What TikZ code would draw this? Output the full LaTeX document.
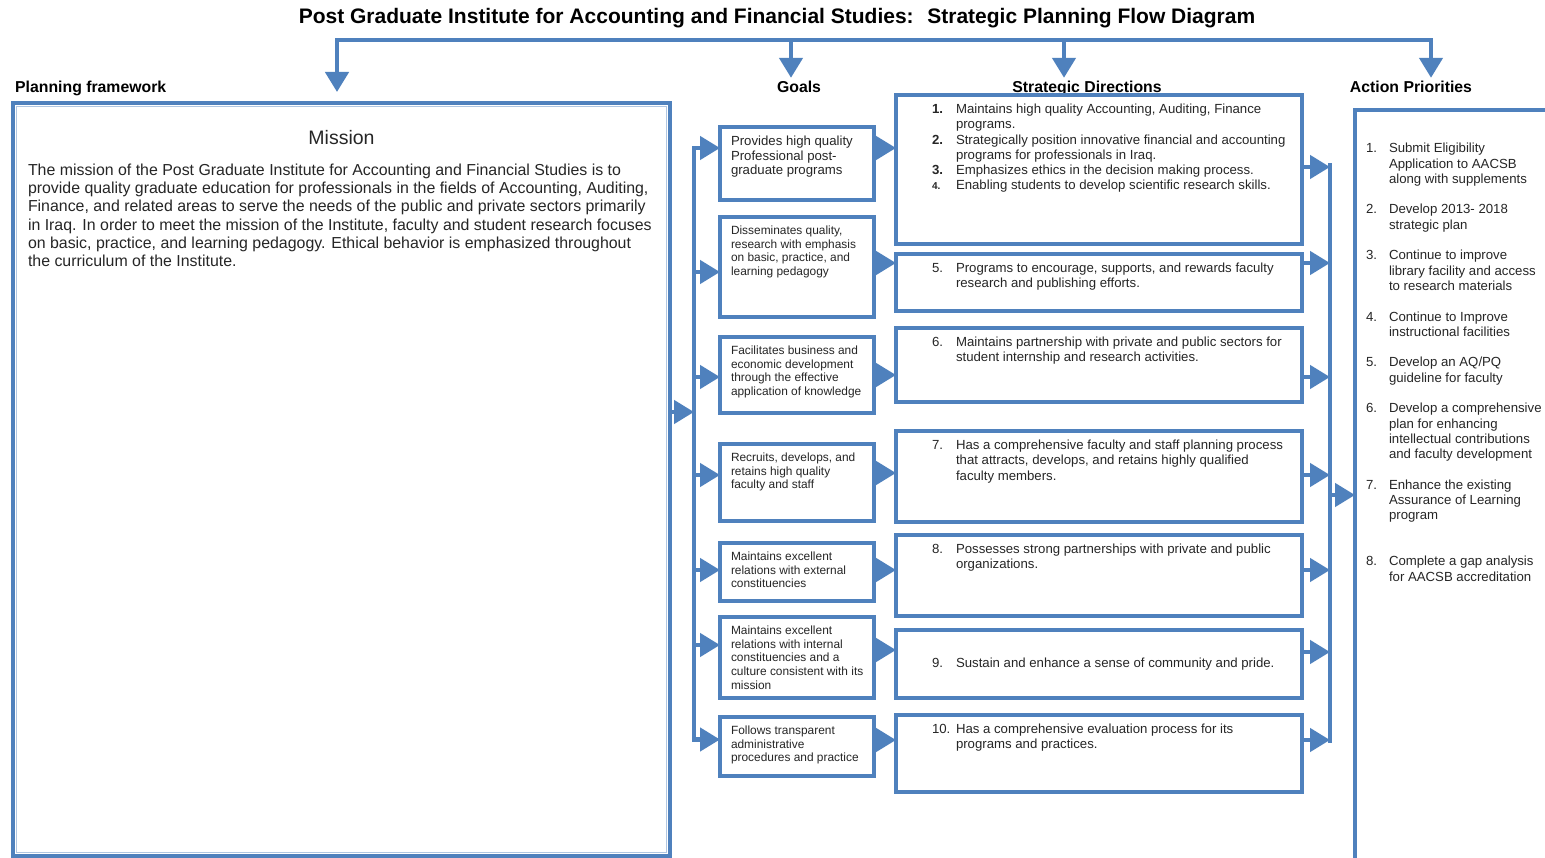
\documentclass[tikz,border=0pt]{standalone}
\usepackage{fontspec}
\setmainfont{Liberation Sans}
\usetikzlibrary{arrows.meta}

\definecolor{pgblue}{RGB}{79,129,189}
\definecolor{ink}{RGB}{38,38,38}

\newcommand{\goaltxt}[2]{\parbox[c][#1][t]{132pt}{\begin{tabular}[t]{@{}l@{}}#2\end{tabular}}}
\newcommand{\dirtxt}[3][t]{\parbox[c][#2][#1]{384pt}{\begin{tabular}[t]{@{\hspace{25pt}}p{17pt}@{\hspace{7pt}}l@{}}#3\end{tabular}}}

\tikzset{
  box/.style={draw=pgblue, line width=3.5pt, outer sep=0pt, inner xsep=11pt, inner ysep=8pt, anchor=north west, text=ink},
  goalbox/.style={box, font=\fontsize{11.9}{13.7}\selectfont},
  dirbox/.style={box, font=\fontsize{13.2}{15.2}\selectfont},
  hd/.style={font=\fontsize{15.8}{18}\selectfont\bfseries, inner sep=0pt, text height=11.5pt, text depth=3pt, anchor=base},
  conn/.style={draw=pgblue, line width=4.5pt, line cap=rect},
  arr/.style={conn, -{Triangle[length=20pt,width=23pt]}}
}

\begin{document}
\begin{tikzpicture}[x=1pt, y=-1pt]
  \fill[white] (0,0) rectangle (1545,858);
  \useasboundingbox (0,0) rectangle (1545,858);

  \node[font=\fontsize{21}{25}\selectfont\bfseries, anchor=base] (title) at (777,24) {Post Graduate Institute for Accounting and Financial Studies: \ Strategic Planning Flow Diagram};

  \node[hd, anchor=base west] (pfhd) at (15,93) {Planning framework};
  \node[hd] (goalshd) at (799,93) {Goals};
  \node[hd] (dirhd) at (1087,93) {Strategic Directions};
  \node[hd] (aphd) at (1411,93) {Action Priorities};

  \node[box, line width=4pt, inner xsep=15pt, inner ysep=27pt] (mission) at (13,103) {\parbox[c][699pt][t]{627pt}{\centering\fontsize{19.5}{23}\selectfont Mission\par
    \vspace{12.7pt}\raggedright\fontsize{15.9}{18.3}\selectfont
    \begin{tabular}[t]{@{}l@{}}
      The mission of the Post Graduate Institute for Accounting and Financial Studies is to\\
      provide quality graduate education for professionals in the fields of Accounting, Auditing,\\
      Finance, and related areas to serve the needs of the public and private sectors primarily\\
      in Iraq. In order to meet the mission of the Institute, faculty and student research focuses\\
      on basic, practice, and learning pedagogy. Ethical behavior is emphasized throughout\\
      the curriculum of the Institute.
    \end{tabular}}};
  \draw[pgblue!45!white, line width=1.2pt] ([shift={(3.4pt,-3.4pt)}]mission.north west) rectangle ([shift={(-3.4pt,3.4pt)}]mission.south east);

  \node[goalbox, font=\fontsize{13.2}{14.8}\selectfont] (g1) at (720,127) {\goaltxt{57pt}{Provides high quality\\ Professional post-\\ graduate programs}};
  \node[goalbox] (g2) at (720,217) {\goaltxt{84pt}{Disseminates quality,\\ research with emphasis\\ on basic, practice, and\\ learning pedagogy}};
  \node[goalbox] (g3) at (720,337) {\goaltxt{60pt}{Facilitates business and\\ economic development\\ through the effective\\ application of knowledge}};
  \node[goalbox] (g4) at (720,444) {\goaltxt{61pt}{Recruits, develops, and\\ retains high quality\\ faculty and staff}};
  \node[goalbox] (g5) at (720,543) {\goaltxt{42pt}{Maintains excellent\\ relations with external\\ constituencies}};
  \node[goalbox] (g6) at (720,617) {\goaltxt{65pt}{Maintains excellent\\ relations with internal\\ constituencies and a\\ culture consistent with its\\ mission}};
  \node[goalbox] (g7) at (720,717) {\goaltxt{43pt}{Follows transparent\\ administrative\\ procedures and practice}};

  \node[dirbox] (s1) at (896,95) {\dirtxt{133pt}{\textbf{1.} & Maintains high quality Accounting, Auditing, Finance\\ & programs.\\ \textbf{2.} & Strategically position innovative financial and accounting\\ & programs for professionals in Iraq.\\ \textbf{3.} & Emphasizes ethics in the decision making process.\\ {\fontsize{10}{12}\selectfont\bfseries 4.} & Enabling students to develop scientific research skills.}};
  \node[dirbox] (s2) at (896,254) {\dirtxt{41pt}{5. & Programs to encourage, supports, and rewards faculty\\ & research and publishing efforts.}};
  \node[dirbox] (s3) at (896,328) {\dirtxt{58pt}{6. & Maintains partnership with private and public sectors for\\ & student internship and research activities.}};
  \node[dirbox] (s4) at (896,431) {\dirtxt{75pt}{7. & Has a comprehensive faculty and staff planning process\\ & that attracts, develops, and retains highly qualified\\ & faculty members.}};
  \node[dirbox] (s5) at (896,535) {\dirtxt{65pt}{8. & Possesses strong partnerships with private and public\\ & organizations.}};
  \node[dirbox] (s6) at (896,630) {\dirtxt[c]{52pt}{9. & Sustain and enhance a sense of community and pride.}};
  \node[dirbox] (s7) at (896,715) {\dirtxt{61pt}{10. & Has a comprehensive evaluation process for its\\ & programs and practices.}};

  \node[box, line width=4pt, inner ysep=32pt, font=\fontsize{13.2}{15.3}\selectfont] (ap) at (1355,110) {\parbox[c][760pt][t]{300pt}{\begin{tabular}[t]{@{}p{16pt}@{\hspace{7pt}}l@{}}
    1. & Submit Eligibility\\ & Application to AACSB\\ & along with supplements\\[15.3pt]
    2. & Develop 2013- 2018\\ & strategic plan\\[15.3pt]
    3. & Continue to improve\\ & library facility and access\\ & to research materials\\[15.3pt]
    4. & Continue to Improve\\ & instructional facilities\\[15.3pt]
    5. & Develop an AQ/PQ\\ & guideline for faculty\\[15.3pt]
    6. & Develop a comprehensive\\ & plan for enhancing\\ & intellectual contributions\\ & and faculty development\\[15.3pt]
    7. & Enhance the existing\\ & Assurance of Learning\\ & program\\[30.6pt]
    8. & Complete a gap analysis\\ & for AACSB accreditation
  \end{tabular}}};

  \coordinate (t1) at (337,40);
  \coordinate (t2) at (791,40);
  \coordinate (t3) at (1064,40);
  \coordinate (t4) at (1431,40);
  \draw[arr, shorten >=11pt] (t4) -- (t1) -- (t1 |- mission.north);
  \draw[arr, shorten >=3.5pt] (t2) -- (t2 |- goalshd.north);
  \draw[arr, shorten >=3.5pt] (t3) -- (t3 |- dirhd.north);
  \draw[arr, shorten >=3.5pt] (t4) -- (t4 |- aphd.north);

  \coordinate (lbtop) at (694,148);
  \coordinate (lbbot) at (694,740);
  \draw[conn] (lbtop) -- (lbbot);
  \draw[arr] ([yshift=67.5pt]mission.east) -- ([yshift=67.5pt]mission.east -| lbtop);
  \foreach \i/\a/\b in {1/15.5/15.5, 2/-5/4, 3/-2/0, 4/7.5/9.5, 5/2/2, 6/12.5/7.5, 7/7/6.5}{
    \draw[arr] ([yshift=\a pt]g\i.west -| lbtop) -- ([yshift=\a pt]g\i.west);
    \draw[arr] ([yshift=\b pt]g\i.east) -- ([yshift=\b pt]g\i.east -| s\i.west);
  }

  \coordinate (rbtop) at (1330,165);
  \coordinate (rbbot) at (1330,740.5);
  \coordinate (rbmid) at (1330,495);
  \draw[conn] (rbtop) -- (rbbot);
  \foreach \i/\c in {1/2.5, 2/19.5, 3/-12, 4/1.5, 5/5.5, 6/12, 7/13.5}
    \draw[arr] ([yshift=\c pt]s\i.east) -- ([yshift=\c pt]s\i.east -| rbtop);
  \draw[arr] (rbmid) -- (rbmid -| ap.west);
\end{tikzpicture}
\end{document}
